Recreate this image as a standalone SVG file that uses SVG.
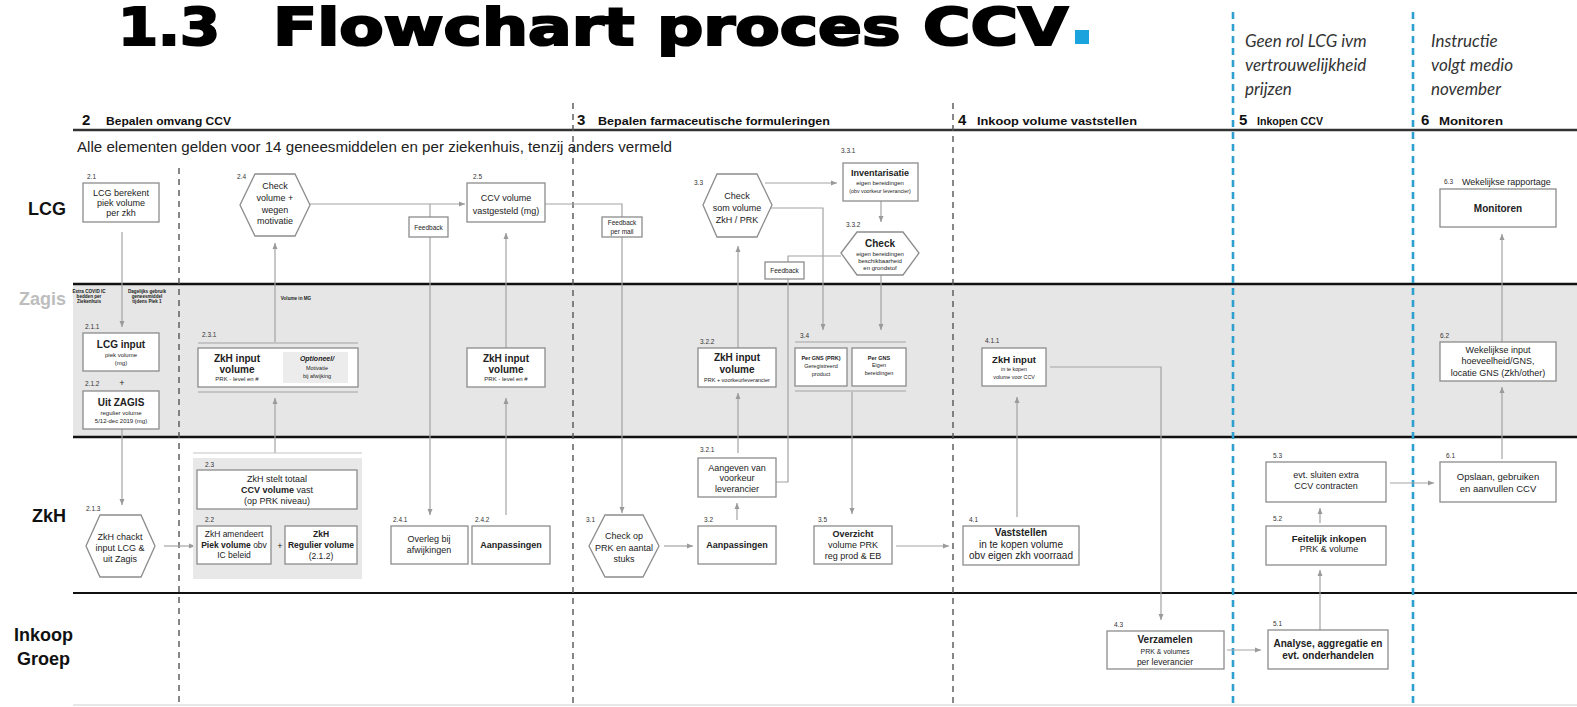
<svg xmlns="http://www.w3.org/2000/svg" width="1577" height="707" viewBox="0 0 1577 707">
<defs>
<marker id="ah" viewBox="0 0 6 6" refX="6" refY="3" markerWidth="6" markerHeight="6" markerUnits="userSpaceOnUse" orient="auto"><path d="M0,0.5 L6,3 L0,5.5 z" fill="#9a9a9a"/></marker>
<style>
text{font-family:"Liberation Sans",Arial,sans-serif;fill:#222}
.n{font-size:9px;text-anchor:middle}
.s{font-size:6px;text-anchor:middle}
.xs{font-size:4.6px;text-anchor:middle;font-weight:bold}
.b{font-weight:bold}
.num{font-size:6.5px;fill:#333}
.box{fill:#fff;stroke:#8c8c8c;stroke-width:1.3}
.conn{fill:none;stroke:#a3a3a3;stroke-width:1.2}
.arr{marker-end:url(#ah)}
.lane{font-size:18px;font-weight:bold;text-anchor:end;fill:#111}
.hn{font-size:15px;font-weight:bold;fill:#111}
.ht{font-size:11px;font-weight:bold;fill:#111}
.it{font-family:Lato,"Open Sans",sans-serif;font-style:italic;font-size:17px;fill:#333}
.dash{stroke:#555;stroke-width:1.4;stroke-dasharray:6 5}
.bdash{stroke:#2f9fd0;stroke-width:2.6;stroke-dasharray:7 5}
.brk{stroke:#c4c4c4;stroke-width:2}
.fb{font-size:6.5px;text-anchor:middle}
.ttl{font-family:"DejaVu Sans",sans-serif;font-weight:bold;font-size:52px;fill:#000;stroke:#000;stroke-width:2.2}
</style>
</defs>
<rect width="1577" height="707" fill="#fff"/>

<g id="title">
<text class="ttl" x="118" y="45" textLength="102" lengthAdjust="spacingAndGlyphs">1.3</text>
<text class="ttl" x="273" y="45" textLength="795" lengthAdjust="spacingAndGlyphs">Flowchart proces CCV</text>
<rect x="1075" y="30" width="14" height="14" fill="#1ba3de"/>
</g>

<g id="notes">
<text class="it" x="1245" y="47">Geen rol LCG ivm</text>
<text class="it" x="1245" y="71">vertrouwelijkheid</text>
<text class="it" x="1245" y="95">prijzen</text>
<text class="it" x="1431" y="47">Instructie</text>
<text class="it" x="1431" y="71">volgt medio</text>
<text class="it" x="1431" y="95">november</text>
</g>

<g id="lanes">
<rect x="73" y="284" width="1504" height="153" fill="#e6e6e6"/>
<line x1="73" y1="130" x2="1577" y2="130" stroke="#333" stroke-width="2.5"/>
<line x1="73" y1="284" x2="1577" y2="284" stroke="#111" stroke-width="2.5"/>
<line x1="73" y1="437" x2="1577" y2="437" stroke="#111" stroke-width="2.5"/>
<line x1="73" y1="593" x2="1577" y2="593" stroke="#111" stroke-width="1.8"/>
<line x1="73" y1="705" x2="1577" y2="705" stroke="#d0d0d0" stroke-width="1.2"/>
<text class="lane" x="66" y="215">LCG</text>
<text class="lane" x="66" y="305" style="fill:#bdbdbd">Zagis</text>
<text class="lane" x="66" y="522">ZkH</text>
<text class="lane" x="73" y="641">Inkoop</text>
<text class="lane" x="70" y="665">Groep</text>
<line class="dash" x1="179" y1="168" x2="179" y2="707"/>
<line class="dash" x1="573" y1="103" x2="573" y2="707"/>
<line class="dash" x1="953" y1="103" x2="953" y2="707"/>
<line class="bdash" x1="1233" y1="12" x2="1233" y2="707"/>
<line class="bdash" x1="1413" y1="12" x2="1413" y2="707"/>
</g>

<g id="headers">
<text class="hn" x="82" y="125">2</text><text class="ht" x="106" y="125" textLength="125" lengthAdjust="spacingAndGlyphs">Bepalen omvang CCV</text>
<text class="hn" x="577" y="125">3</text><text class="ht" x="598" y="125" textLength="232" lengthAdjust="spacingAndGlyphs">Bepalen farmaceutische formuleringen</text>
<text class="hn" x="958" y="125">4</text><text class="ht" x="977" y="125" textLength="160" lengthAdjust="spacingAndGlyphs">Inkoop volume vaststellen</text>
<text class="hn" x="1239" y="125">5</text><text class="ht" x="1257" y="125" textLength="66" lengthAdjust="spacingAndGlyphs">Inkopen CCV</text>
<text class="hn" x="1421" y="125">6</text><text class="ht" x="1439" y="125" textLength="64" lengthAdjust="spacingAndGlyphs">Monitoren</text>
<text x="77" y="152" font-size="15" textLength="595" lengthAdjust="spacingAndGlyphs" style="fill:#222">Alle elementen gelden voor 14 geneesmiddelen en per ziekenhuis, tenzij anders vermeld</text>
</g>

<g id="connectors">
<path class="conn arr" d="M122,232 V327"/>
<path class="conn arr" d="M122,429 V505"/>
<path class="conn arr" d="M164,546 H195"/>
<path class="conn arr" d="M275,453 V398"/>
<path class="conn arr" d="M275,343 V243"/>
<path class="conn arr" d="M236,525 V511"/>
<path class="conn arr" d="M319,525 V511"/>
<path class="conn arr" d="M310,204 H465"/>
<path class="conn arr" d="M430,204 V515"/>
<path class="conn arr" d="M506,515 V398"/>
<path class="conn arr" d="M506,348 V233"/>
<path class="conn arr" d="M545,204 H622 V513"/>
<path class="conn arr" d="M664,546 H693"/>
<path class="conn arr" d="M737,520 V503"/>
<path class="conn arr" d="M738,453 V393"/>
<path class="conn arr" d="M738,348 V246"/>
<path class="conn arr" d="M765,183 H837"/>
<path class="conn arr" d="M770,208 H823 V330"/>
<path class="conn arr" d="M881,201 V222"/>
<path class="conn arr" d="M881,275 V330"/>
<path class="conn" d="M841,256 H788 V482 H776"/>
<path class="conn arr" d="M852,391 V514"/>
<path class="conn arr" d="M896,546 H949"/>
<path class="conn arr" d="M1017,517 V397"/>
<path class="conn arr" d="M1050,367 H1161 V620"/>
<path class="conn arr" d="M1227,650 H1261"/>
<path class="conn arr" d="M1320,630 V570"/>
<path class="conn arr" d="M1320,523 V508"/>
<path class="conn arr" d="M1390,483 H1434"/>
<path class="conn arr" d="M1502,459 V387"/>
<path class="conn arr" d="M1502,342 V234"/>
</g>

<g id="n2_1"><text class="num" x="87" y="179">2.1</text><rect class="box" x="83" y="183" width="76" height="39"/>
<text class="n" x="121" y="196">LCG berekent</text><text class="n" x="121" y="206">piek volume</text><text class="n" x="121" y="216">per zkh</text></g>

<g id="n2_4"><text class="num" x="237" y="179">2.4</text><polygon class="box" points="240,205 255,174 295,174 310,205 295,236 255,236"/>
<text class="n" x="275" y="189">Check</text><text class="n" x="275" y="201">volume +</text><text class="n" x="275" y="213">wegen</text><text class="n" x="275" y="224">motivatie</text></g>

<g id="fb1"><rect class="box" x="409" y="217" width="39" height="20"/><text class="fb" x="428.5" y="229.5">Feedback</text></g>

<g id="n2_5"><text class="num" x="473" y="179">2.5</text><rect class="box" x="467" y="183" width="78" height="39"/>
<text class="n" x="506" y="201">CCV volume</text><text class="n" x="506" y="214">vastgesteld (mg)</text></g>

<g id="fb2"><rect class="box" x="602" y="217" width="40" height="20"/><text class="fb" x="622" y="225">Feedback</text><text class="fb" x="622" y="233.5">per mail</text></g>

<g id="n3_3"><text class="num" x="694" y="185">3.3</text><polygon class="box" points="703,205 717,174 757,174 772,205 757,237 717,237"/>
<text class="n" x="737" y="199">Check</text><text class="n" x="737" y="211">som volume</text><text class="n" x="737" y="223">ZkH / PRK</text></g>

<g id="n3_3_1"><text class="num" x="841" y="153">3.3.1</text><rect class="box" x="843" y="163" width="75" height="38"/>
<text class="n b" x="880" y="176">Inventarisatie</text><text class="s" x="880" y="185">eigen bereidingen</text><text class="s" x="880" y="193" style="font-size:5.3px">(obv voorkeur leverancier)</text></g>

<g id="n3_3_2"><text class="num" x="846" y="227">3.3.2</text><polygon class="box" points="841,253 857,232 903,232 919,253 903,275 857,275"/>
<text class="n b" x="880" y="247" style="font-size:10px">Check</text><text class="s" x="880" y="256">eigen bereidingen</text><text class="s" x="880" y="263">beschikbaarheid</text><text class="s" x="880" y="270">en grondstof</text></g>

<g id="fb3"><rect class="box" x="765" y="262" width="39" height="17"/><text class="fb" x="784.5" y="273">Feedback</text></g>

<g id="zagisnotes">
<text class="xs" x="89" y="293">Extra COVID IC</text><text class="xs" x="89" y="298">bedden per</text><text class="xs" x="89" y="303">Ziekenhuis</text>
<text class="xs" x="147" y="293">Dagelijks gebruik</text><text class="xs" x="147" y="298">geneesmiddel</text><text class="xs" x="147" y="303">tijdens Piek 1</text>
<text class="xs" x="296" y="300">Volume in MG</text>
</g>

<g id="n2_1_1"><text class="num" x="85" y="329">2.1.1</text><rect class="box" x="83" y="333" width="76" height="38"/>
<text class="n b" x="121" y="348" style="font-size:10px">LCG input</text><text class="s" x="121" y="357">piek volume</text><text class="s" x="121" y="365">(mg)</text></g>

<g id="n2_1_2"><text class="num" x="85" y="386">2.1.2</text><text class="n" x="122" y="386">+</text><rect class="box" x="83" y="391" width="76" height="38"/>
<text class="n b" x="121" y="406" style="font-size:10px">Uit ZAGIS</text><text class="s" x="121" y="415">regulier volume</text><text class="s" x="121" y="423">5/12-dec 2019 (mg)</text></g>

<g id="n2_3_1"><text class="num" x="202" y="337">2.3.1</text>
<line class="brk" x1="198" y1="343" x2="358" y2="343"/><line class="brk" x1="198" y1="392" x2="358" y2="392"/>
<rect class="box" x="198" y="348" width="160" height="39"/><rect x="283" y="352" width="65" height="31" fill="#ececec"/>
<text class="n b" x="237" y="362" style="font-size:10px">ZkH input</text><text class="n b" x="237" y="373" style="font-size:10px">volume</text><text class="s" x="237" y="381">PRK - level en #</text>
<text class="s b" x="317" y="361" style="font-size:7px;font-style:italic">Optioneel/</text><text class="s" x="317" y="370" style="font-size:5.5px">Motivatie</text><text class="s" x="317" y="378" style="font-size:5.5px">bij afwijking</text></g>

<g id="n2_5b"><rect class="box" x="467" y="348" width="78" height="39"/>
<text class="n b" x="506" y="362" style="font-size:10px">ZkH input</text><text class="n b" x="506" y="373" style="font-size:10px">volume</text><text class="s" x="506" y="381">PRK - level en #</text></g>

<g id="n3_2_2"><text class="num" x="700" y="344">3.2.2</text><rect class="box" x="698" y="348" width="78" height="39"/>
<text class="n b" x="737" y="361" style="font-size:10px">ZkH input</text><text class="n b" x="737" y="373" style="font-size:10px">volume</text><text class="s" x="737" y="382" style="font-size:5.5px">PRK + voorkeurleverancier</text></g>

<g id="n3_4"><text class="num" x="800" y="338">3.4</text>
<line class="brk" x1="795" y1="342" x2="906" y2="342"/><line class="brk" x1="795" y1="391" x2="906" y2="391"/>
<rect class="box" x="795" y="348" width="52" height="38"/><rect class="box" x="852" y="348" width="54" height="38"/>
<text class="s b" x="821" y="360" style="font-size:5.5px">Per GNS (PRK)</text><text class="s" x="821" y="368" style="font-size:5.5px">Geregistreerd</text><text class="s" x="821" y="376" style="font-size:5.5px">product</text>
<text class="s b" x="879" y="360" style="font-size:5.5px">Per GNS</text><text class="s" x="879" y="367" style="font-size:5.5px">Eigen</text><text class="s" x="879" y="375" style="font-size:5.5px">bereidingen</text></g>

<g id="n4_1_1"><text class="num" x="985" y="343">4.1.1</text><rect class="box" x="982" y="348" width="64" height="38"/>
<text class="n b" x="1014" y="363" style="font-size:9.5px">ZkH input</text><text class="s" x="1014" y="371" style="font-size:5.3px">in te kopen</text><text class="s" x="1014" y="379" style="font-size:5.3px">volume voor CCV</text></g>

<g id="n6_2"><text class="num" x="1440" y="338">6.2</text><rect class="box" x="1440" y="342" width="116" height="39"/>
<text class="n" x="1498" y="353">Wekelijkse input</text><text class="n" x="1498" y="364">hoeveelheid/GNS,</text><text class="n" x="1498" y="376">locatie GNS (Zkh/other)</text></g>

<g id="n6_3"><text class="num" x="1444" y="184">6.3</text><text x="1462" y="185" font-size="9" style="fill:#222">Wekelijkse rapportage</text>
<rect class="box" x="1440" y="189" width="116" height="38"/><text class="n b" x="1498" y="212" style="font-size:10px">Monitoren</text></g>

<g id="n2_1_3"><text class="num" x="86" y="511">2.1.3</text><polygon class="box" points="86,546 100,515 141,515 155,546 141,577 100,577"/>
<text class="n" x="120" y="540">ZkH chackt</text><text class="n" x="120" y="551">input LCG &amp;</text><text class="n" x="120" y="562">uit Zagis</text></g>

<g id="n2_3grp"><line class="brk" x1="193" y1="453" x2="362" y2="453" style="stroke-width:1.2"/><rect x="193" y="458" width="169" height="121" fill="#e8e8e8"/></g>

<g id="n2_3"><text class="num" x="205" y="467">2.3</text><rect class="box" x="197" y="470" width="160" height="39"/>
<text class="n" x="277" y="482">ZkH stelt totaal</text><text class="n" x="277" y="493"><tspan class="b">CCV volume</tspan> vast</text><text class="n" x="277" y="504">(op PRK niveau)</text></g>

<g id="n2_2"><text class="num" x="205" y="522">2.2</text><rect class="box" x="197" y="526" width="74" height="38"/>
<text class="n" x="234" y="537" style="font-size:8.5px">ZkH amendeert</text><text class="n" x="234" y="548" style="font-size:8.5px"><tspan class="b">Piek volume</tspan> obv</text><text class="n" x="234" y="558" style="font-size:8.5px">IC beleid</text>
<text class="n" x="280" y="549">+</text>
<rect class="box" x="285" y="526" width="72" height="38"/>
<text class="n b" x="321" y="537" style="font-size:8.5px">ZkH</text><text class="n b" x="321" y="548" style="font-size:8.5px">Regulier volume</text><text class="n" x="321" y="559" style="font-size:8.5px">(2.1.2)</text></g>

<g id="n2_4_1"><text class="num" x="393" y="522">2.4.1</text><rect class="box" x="391" y="526" width="77" height="38"/>
<text class="n" x="429" y="542">Overleg bij</text><text class="n" x="429" y="553">afwijkingen</text></g>

<g id="n2_4_2"><text class="num" x="475" y="522">2.4.2</text><rect class="box" x="472" y="526" width="78" height="38"/>
<text class="n b" x="511" y="548">Aanpassingen</text></g>

<g id="n3_1"><text class="num" x="586" y="522">3.1</text><polygon class="box" points="589,546 605,515 643,515 659,546 643,577 605,577"/>
<text class="n" x="624" y="539">Check op</text><text class="n" x="624" y="551">PRK en aantal</text><text class="n" x="624" y="562">stuks</text></g>

<g id="n3_2_1"><text class="num" x="700" y="452">3.2.1</text><rect class="box" x="698" y="458" width="78" height="39"/>
<text class="n" x="737" y="471">Aangeven van</text><text class="n" x="737" y="481">voorkeur</text><text class="n" x="737" y="492">leverancier</text></g>

<g id="n3_2"><text class="num" x="704" y="522">3.2</text><rect class="box" x="698" y="526" width="78" height="38"/>
<text class="n b" x="737" y="548">Aanpassingen</text></g>

<g id="n3_5"><text class="num" x="818" y="522">3.5</text><rect class="box" x="814" y="526" width="78" height="38"/>
<text class="n b" x="853" y="537">Overzicht</text><text class="n" x="853" y="548">volume PRK</text><text class="n" x="853" y="559">reg prod &amp; EB</text></g>

<g id="n4_1"><text class="num" x="969" y="522">4.1</text><rect class="box" x="963" y="526" width="116" height="39"/>
<text class="n b" x="1021" y="536" style="font-size:10px">Vaststellen</text><text class="n" x="1021" y="548" style="font-size:10px">in te kopen volume</text><text class="n" x="1021" y="559" style="font-size:10px">obv eigen zkh voorraad</text></g>

<g id="n5_3"><text class="num" x="1273" y="458">5.3</text><rect class="box" x="1266" y="462" width="120" height="40"/>
<text class="n" x="1326" y="478">evt. sluiten extra</text><text class="n" x="1326" y="489">CCV contracten</text></g>

<g id="n6_1"><text class="num" x="1446" y="458">6.1</text><rect class="box" x="1440" y="462" width="116" height="40"/>
<text class="n" x="1498" y="480" style="font-size:9.5px">Opslaan, gebruiken</text><text class="n" x="1498" y="492" style="font-size:9.5px">en aanvullen CCV</text></g>

<g id="n5_2"><text class="num" x="1273" y="521">5.2</text><rect class="box" x="1266" y="526" width="120" height="39"/>
<text class="n b" x="1329" y="542" style="font-size:9.5px">Feitelijk inkopen</text><text class="n" x="1329" y="552">PRK &amp; volume</text></g>

<g id="n4_3"><text class="num" x="1114" y="627">4.3</text><rect class="box" x="1107" y="631" width="117" height="38"/>
<text class="n b" x="1165" y="643" style="font-size:10px">Verzamelen</text><text class="s" x="1165" y="654" style="font-size:7px">PRK &amp; volumes</text><text class="n" x="1165" y="665" style="font-size:8.5px">per leverancier</text></g>

<g id="n5_1"><text class="num" x="1273" y="626">5.1</text><rect class="box" x="1268" y="630" width="120" height="39"/>
<text class="n b" x="1328" y="647" style="font-size:10px">Analyse, aggregatie en</text><text class="n b" x="1328" y="659" style="font-size:10px">evt. onderhandelen</text></g>
</svg>
